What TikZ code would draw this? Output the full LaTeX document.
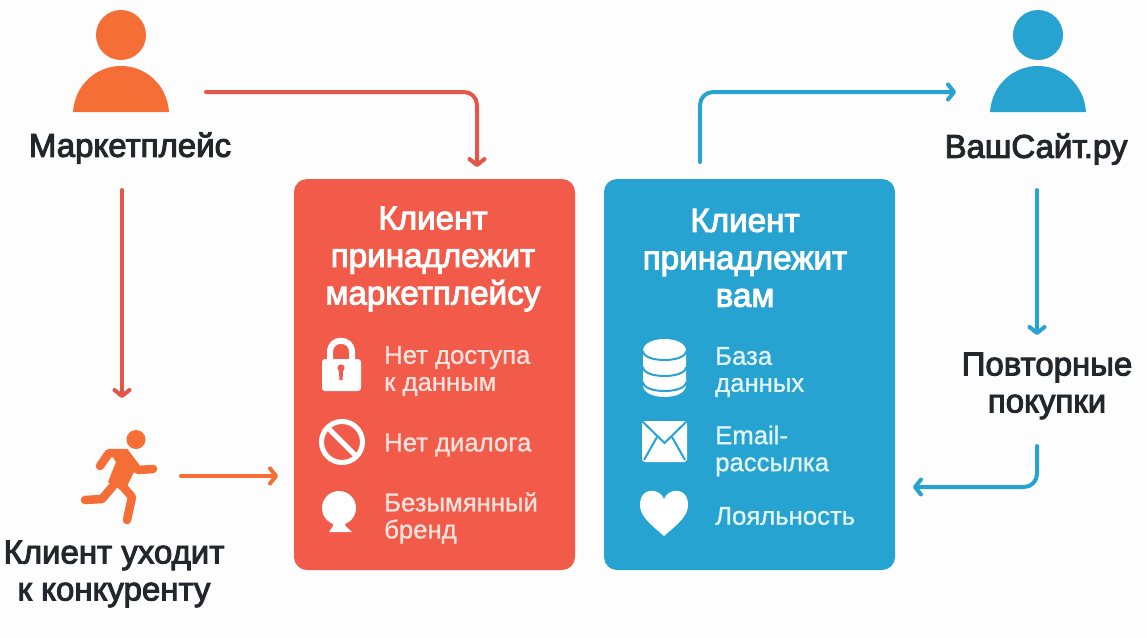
\documentclass[tikz,border=0pt]{standalone}
\usepackage{fontspec}
\setmainfont{Liberation Sans}
\newfontfamily\headfont[FakeBold=3]{Liberation Sans}
\newfontfamily\itemfont[FakeBold=1]{Liberation Sans}
\usetikzlibrary{arrows.meta}
\definecolor{bgc}{HTML}{FDFDFD}
\definecolor{redc}{HTML}{F25A4A}
\definecolor{redl}{HTML}{E4554A}
\definecolor{orc}{HTML}{F56E36}
\definecolor{bluec}{HTML}{27A3D1}
\definecolor{inkc}{HTML}{23262B}
\definecolor{listr}{HTML}{FCE3DD}
\definecolor{listb}{HTML}{E3F5FB}
\tikzset{
  x=1pt,y=-1pt,
  panel/.style={draw=none,rounded corners=13pt,inner sep=0pt},
  conn/.style={line width=4pt,line cap=round,line join=round,rounded corners=13pt,-{Straight Barb[length=6pt,width=15pt,line width=4pt,round]}},
  caption/.style={font=\headfont\fontsize{33}{37}\selectfont,text=inkc,align=center,inner sep=0pt},
  title/.style={font=\headfont\fontsize{33.2}{37.5}\selectfont,text=white,align=center,inner sep=0pt},
  item/.style={font=\itemfont\fontsize{25.7}{27}\selectfont,align=left,anchor=west,inner sep=0pt},
}
\begin{document}
\begin{tikzpicture}
\useasboundingbox (0,0) rectangle (1147,637);
\fill[bgc] (0,0) rectangle (1147,637);
% panels
\node[panel,fill=redc,minimum width=281pt,minimum height=391pt] (redbox) at (434.5,374.5) {};
\node[panel,fill=bluec,minimum width=291pt,minimum height=391pt] (bluebox) at (749.5,374.5) {};
% persons
\fill[orc] (121,35) circle (25pt);
\fill[orc] (73,112) .. controls (75,84) and (97,66) .. (121,66) .. controls (145,66) and (167,84) .. (169,112) -- cycle;
\fill[bluec] (1038,35) circle (25pt);
\fill[bluec] (990,112) .. controls (992,84) and (1014,66) .. (1038,66) .. controls (1062,66) and (1084,84) .. (1086,112) -- cycle;
% captions
\node[caption] (market) at (130,148) {Маркетплейс};
\node[caption] (site) at (1036,149) {ВашСайт.ру};
\node[caption] (repeat) at (1047,386) {Повторные\\покупки};
\node[caption] (leave) at (114,574) {Клиент уходит\\к конкуренту};
% titles
\node[title] (redtitle) at (433,259) {Клиент\\принадлежит\\маркетплейсу};
\node[title] (bluetitle) at (745,258) {Клиент\\принадлежит\\вам};
% list items
\node[item,text=listr] (i1) at (384,371) {Нет доступа\\к данным};
\node[item,text=listr] (i2) at (384,445) {Нет диалога};
\node[item,text=listr] (i3) at (384,518) {Безымянный\\бренд};
\node[item,text=listb] (i4) at (715,372) {База\\данных};
\node[item,text=listb] (i5) at (715,451) {Email-\\рассылка};
\node[item,text=listb] (i6) at (715,516) {Лояльность};
% connector ends
\coordinate (a1) at (206,92);  \coordinate (a2) at (477,92);  \coordinate (a3) at (477,167);
\coordinate (b1) at (122,190); \coordinate (b2) at (122,398);
\coordinate (c1) at (181,476); \coordinate (c2) at (278,476);
\coordinate (d1) at (700,162); \coordinate (d2) at (700,92);  \coordinate (d3) at (956,92);
\coordinate (e1) at (1037,190);\coordinate (e2) at (1037,335);
\coordinate (f1) at (1037,446);\coordinate (f2) at (1037,487);\coordinate (f3) at (913,487);
\draw[conn,draw=redl] (a1) -- (a2) -- (a3);
\draw[conn,draw=redl] (b1) -- (b2);
\draw[conn,draw=orc] (c1) -- (c2);
\draw[conn,draw=bluec] (d1) -- (d2) -- (d3);
\draw[conn,draw=bluec] (e1) -- (e2);
\draw[conn,draw=bluec] (f1) -- (f2) -- (f3);
% runner
\fill[orc] (136,439.5) circle (9.5pt);
\draw[orc,line width=8.5pt,line cap=round,line join=round] (100,466) -- (109,453) -- (125,453) -- (138,470) -- (153,469);
\fill[orc] (108,449) -- (128,449) -- (135,470) -- (124,492) -- (108,482) -- (116,462) -- cycle;
\draw[orc,line width=8.5pt,line cap=round,line join=round] (118,480) -- (102,499) -- (85,500);
\draw[orc,line width=8.5pt,line cap=round,line join=round] (119,482) -- (132,497) -- (127,520);
% lock
\draw[white,line width=6pt] (330,362) -- (330,352) .. controls (330,337) and (352,337) .. (352,352) -- (352,362);
\fill[white,rounded corners=3pt] (322,359) rectangle (361,391);
\fill[redc] (341,368) circle (3.6pt);
\fill[redc] (339,370) -- (343,370) -- (342.6,380) -- (339.4,380) -- cycle;
% forbidden
\draw[white,line width=5pt] (342,442) circle (20.5pt);
\draw[white,line width=5pt] (327.5,427.5) -- (356.5,456.5);
% bulb
\fill[white] (339,508) circle (17pt);
\fill[white] (333,520) -- (345,520) -- (345.5,526) -- (352,532) -- (329,532) -- (333,526) -- cycle;
% database
\fill[white] (643,351) .. controls (643,335) and (686,335) .. (686,351) -- (686,385) .. controls (686,401) and (643,401) .. (643,385) -- cycle;
\draw[bluec,line width=2pt] (643,351) .. controls (643,363) and (686,363) .. (686,351);
\draw[bluec,line width=2pt] (643,367) .. controls (643,379) and (686,379) .. (686,367);
\draw[bluec,line width=2pt] (643,382) .. controls (643,394) and (686,394) .. (686,382);
% envelope
\fill[white,rounded corners=3pt] (642,421) rectangle (687,462);
\draw[bluec,line width=2pt] (643,422) -- (664.5,443) -- (686,422);
\draw[bluec,line width=2pt] (644,460) -- (657,437);
\draw[bluec,line width=2pt] (685,460) -- (672,437);
% heart
\fill[white] (664,536) .. controls (650,524) and (640,516) .. (640,505) .. controls (640,486) and (660,488) .. (664,499) .. controls (668,488) and (688,486) .. (688,505) .. controls (688,516) and (678,524) .. (664,536) -- cycle;
\end{tikzpicture}
\end{document}
